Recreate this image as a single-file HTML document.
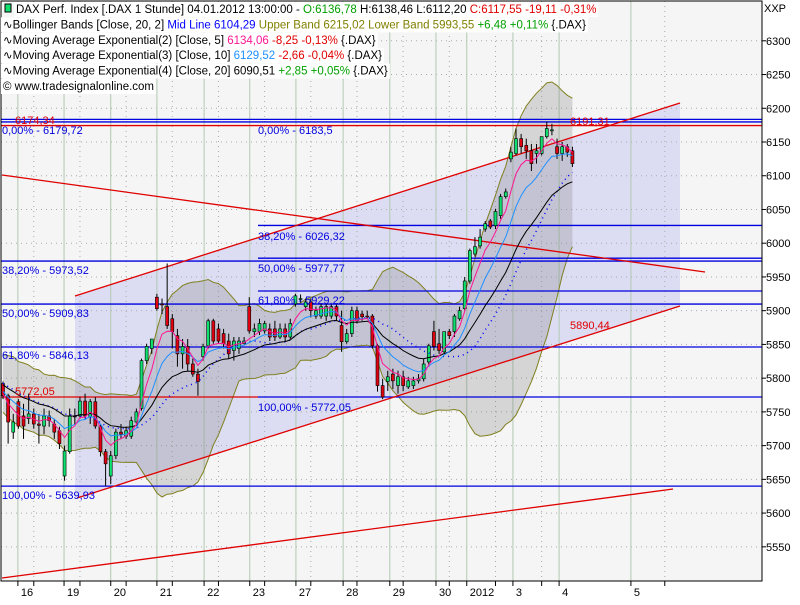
<!DOCTYPE html>
<html><head><meta charset="utf-8"><style>
body{margin:0;background:#fff;width:800px;height:600px;overflow:hidden;font-family:"Liberation Sans",sans-serif}
svg text{font-family:"Liberation Sans",sans-serif}
</style></head><body>
<svg id="chart" width="800" height="600" xmlns="http://www.w3.org/2000/svg"></svg>
<script>
const history=[5830,5820,5840,5810,5800,5815,5790,5805,5780,5770,5795,5785,5760,5775,5790,5780,5765,5785,5775];
const opens=[5792,5774,5720,5765,5744,5740,5747,5732,5729,5744,5732,5722,5655,5691,5744,5744,5766,5743,5765,5729,5691,5655,5685,5720,5714,5714,5735,5755,5826,5844,5920,5910,5906,5888,5863,5836,5847,5821,5806,5832,5848,5885,5873,5866,5855,5841,5844,5851,5906,5869,5869,5870,5873,5873,5861,5873,5861,5910,5918,5906,5913,5892,5892,5892,5892,5906,5878,5854,5866,5900,5895,5892,5892,5848,5789,5795,5806,5789,5802,5787,5789,5796,5799,5824,5869,5851,5839,5869,5869,5888,5903,5944,5984,5996,6021,6033,6026,6041,6069,6125,6133,6155,6145,6137,6133,6133,6158,6167,6143,6133,6143,6137];
const highs=[5795,5777,5747,5769,5762,5777,5755,5747,5755,5752,5740,5728,5700,5755,5755,5772,5777,5769,5772,5732,5695,5692,5725,5732,5728,5743,5755,5829,5851,5858,5925,5918,5970,5895,5873,5858,5858,5829,5814,5851,5888,5888,5881,5873,5866,5861,5861,5861,5920,5881,5888,5885,5881,5885,5881,5881,5888,5925,5924,5918,5918,5906,5910,5910,5910,5909,5900,5873,5906,5906,5900,5900,5895,5851,5799,5811,5814,5811,5811,5802,5802,5806,5829,5851,5885,5873,5869,5873,5895,5906,5950,5992,6009,6021,6033,6036,6051,6073,6081,6143,6170,6162,6155,6147,6147,6158,6180,6177,6155,6150,6147,6143];
const lows=[5769,5703,5710,5725,5710,5732,5725,5703,5717,5728,5710,5695,5648,5688,5732,5740,5740,5732,5725,5684,5640,5643,5680,5710,5710,5710,5732,5752,5821,5836,5900,5895,5873,5844,5817,5814,5811,5802,5774,5826,5844,5851,5851,5844,5829,5826,5836,5850,5866,5861,5864,5866,5855,5855,5858,5855,5858,5906,5912,5900,5890,5888,5888,5885,5888,5885,5839,5851,5861,5881,5885,5888,5844,5780,5769,5781,5784,5777,5781,5784,5784,5792,5795,5817,5841,5836,5836,5858,5861,5885,5900,5940,5980,5992,6017,6021,6021,6036,6066,6120,6130,6133,6125,6107,6118,6130,6155,6160,6125,6122,6128,6113];
const closes=[5774,5735,5735,5729,5729,5747,5732,5730,5744,5737,5720,5703,5692,5744,5743,5766,5744,5765,5729,5691,5673,5685,5720,5717,5722,5737,5750,5826,5847,5858,5903,5909,5878,5869,5836,5847,5821,5806,5795,5847,5885,5855,5855,5851,5836,5855,5855,5855,5870,5873,5881,5881,5861,5861,5873,5861,5881,5922,5918,5913,5900,5900,5906,5906,5906,5892,5854,5866,5900,5885,5891,5891,5848,5789,5772,5802,5796,5802,5789,5796,5796,5799,5821,5848,5847,5841,5869,5863,5892,5900,5944,5989,5995,6009,6029,6024,6047,6069,6076,6135,6155,6143,6137,6118,6137,6158,6170,6168,6133,6143,6135,6118];
const yTicks=[6300,6250,6200,6150,6100,6050,6000,5950,5900,5850,5800,5750,5700,5650,5600,5550];
const dayLabels=["16","19","20","21","22","23","27","28","29","30","2012","3","4","5"];
const dayTickIdx=[2.9,11.9,21,30,39.2,48.1,57.1,66.3,75.4,84.4,90.4,99.4,108.4,122.4];
const midTickIdx=[6,15,24,33,42,51,60,69,78,87,96,105,129];

const NS="http://www.w3.org/2000/svg";
const svg=document.getElementById('chart');
const PL=1,PR=762,PT=1,PB=581;
function y(p){return 40.8+(6300-p)*0.6747;}
function x(i){return 3+i*5.13;}
function mk(tag,attrs,parent){const e=document.createElementNS(NS,tag);for(const k in attrs)e.setAttribute(k,attrs[k]);(parent||svg).appendChild(e);return e;}
function txt(s,xx,yy,fill,anchor,name){const t=mk('text',{x:xx,y:yy,fill:fill,'font-size':11,'text-anchor':anchor||'start'});t.textContent=s;


return t;}

// plot bg
const bg=mk('rect',{x:PL,y:PT,width:PR-PL,height:PB-PT,fill:'#f5f5f5'});



// channel fill
const ch=mk('polygon',{points:'75,296 680,103 680,306 75,498',fill:'#dcdcf2'});



// grid
yTicks.forEach(v=>{const g=mk('line',{x1:PL,x2:PR,y1:y(v),y2:y(v),stroke:'#aaa','stroke-dasharray':'1,4'});

});
dayTickIdx.forEach(i=>{const g=mk('line',{x1:x(i),x2:x(i),y1:PT,y2:PB,stroke:'#b2c8b2'});

});
midTickIdx.forEach(i=>{const g=mk('line',{x1:x(i),x2:x(i),y1:PT,y2:PB,stroke:'#aaa','stroke-dasharray':'1,4'});

});

// indicators
const all=history.concat(closes),H=history.length;
function ema(n){const k=2/(n+1);let e=all[0];const out=[];all.forEach((c,j)=>{e=j?e+k*(c-e):c;out.push(e);});return out.slice(H);}
const mid=[],up=[],lo=[];
for(let j=H;j<all.length;j++){const w=all.slice(Math.max(0,j-19),j+1);const m=w.reduce((a,b)=>a+b,0)/w.length;const sd=Math.sqrt(w.reduce((a,b)=>a+(b-m)*(b-m),0)/w.length);mid.push(m);up.push(m+2*sd);lo.push(m-2*sd);}
function pts(arr){return arr.map((v,i)=>x(i).toFixed(1)+','+y(v).toFixed(1)).join(' ');}
const band=mk('polygon',{points:pts(up)+' '+lo.map((v,i)=>[i,v]).reverse().map(a=>x(a[0]).toFixed(1)+','+y(a[1]).toFixed(1)).join(' '),fill:'rgba(120,120,120,0.25)'});


const ub=mk('polyline',{points:pts(up),fill:'none',stroke:'#808020'});


const lb=mk('polyline',{points:pts(lo),fill:'none',stroke:'#808020'});



// horizontal fib lines
function hl(x1,x2,yy,col,name){const l=mk('line',{x1:x1,x2:x2,y1:yy,y2:yy,stroke:col,'stroke-width':1.3});

}
hl(PL,PR,y(6183.5),'#0000e0','fib-0-line-b');
hl(PL,PR,y(6179.72),'#0000e0','fib-0-line-a');
hl(PL,PR,y(6174.34),'#e00000','red-level-6174');
hl(PL,PR,y(5973.52),'#0000e0','fib-38-line-a');
hl(PL,PR,y(5909.83),'#0000e0','fib-50-line-a');
hl(PL,PR,y(5846.13),'#0000e0','fib-61-line-a');
hl(PL,PR,y(5639.93),'#0000e0','fib-100-line-a');
hl(PL,258,y(5772.05),'#e00000','red-level-5772');
hl(258,PR,y(6026.32),'#0000e0','fib-38-line-b');
hl(258,PR,y(5977.77),'#0000e0','fib-50-line-b');
hl(258,PR,y(5929.22),'#0000e0','fib-61-line-b');
hl(258,PR,y(5772.05),'#0000e0','fib-100-line-b');

// red trend lines
function tl(a,b,c,d,name){const l=mk('line',{x1:a,y1:b,x2:c,y2:d,stroke:'#e00000','stroke-width':1.3});

}
tl(75,296,680,103,'channel-upper-line');
tl(77,498,680,306,'channel-lower-line');
tl(2,578,673,489,'long-support-line');
tl(2,175,705,272,'descending-resistance-line');

// candles
closes.forEach((c,i)=>{const o=opens[i],cx=x(i);
const w=mk('line',{x1:cx,x2:cx,y1:y(highs[i]),y2:y(lows[i]),stroke:'#000'});


const top=y(Math.max(o,c)),h=Math.max(1,Math.abs(y(o)-y(c)));
const b=mk('rect',{x:cx-1.5,y:top,width:3,height:h,fill:c>=o?'#10e070':'#e00010',stroke:'#000','stroke-width':0.6});

});

const mline=mk('polyline',{points:pts(mid),fill:'none',stroke:'#0000ff','stroke-dasharray':'1,4','stroke-width':1.5});


const e20=mk('polyline',{points:pts(ema(20)),fill:'none',stroke:'#000'});


const e10=mk('polyline',{points:pts(ema(10)),fill:'none',stroke:'#1e90ff'});


const e5=mk('polyline',{points:pts(ema(5)),fill:'none',stroke:'#ff1493'});



// fib labels
txt('0,00% - 6179,72',2,134,'#0000e0','start','fib-label');
txt('6174,34',15,124,'#e00000','start','red-level-label');
txt('0,00% - 6183,5',258,134,'#0000e0','start','fib-label');
txt('38,20% - 5973,52',2,274,'#0000e0','start','fib-label');
txt('50,00% - 5909,83',2,317,'#0000e0','start','fib-label');
txt('61,80% - 5846,13',2,359,'#0000e0','start','fib-label');
txt('5772,05',15,395,'#e00000','start','red-level-label');
txt('100,00% - 5639,93',2,499,'#0000e0','start','fib-label');
txt('38,20% - 6026,32',258,240,'#0000e0','start','fib-label');
txt('50,00% - 5977,77',258,272,'#0000e0','start','fib-label');
txt('61,80% - 5929,22',258,304,'#0000e0','start','fib-label');
txt('100,00% - 5772,05',258,411,'#0000e0','start','fib-label');
txt('6191,31',570,125,'#e00000','start','channel-value-label');
txt('5890,44',570,329,'#e00000','start','channel-value-label');

// frame & axes
const fr=mk('rect',{x:PL,y:PT,width:PR-PL,height:PB-PT,fill:'none',stroke:'#000'});


yTicks.forEach(v=>{const t=mk('line',{x1:PR,x2:PR+4,y1:y(v),y2:y(v),stroke:'#000'});


txt(String(v),766,y(v)+4,'#000','start','y-tick-label');});
txt('XXP',764,12,'#000','start','symbol-label');
dayTickIdx.forEach((i,k)=>{const t=mk('line',{x1:x(i),x2:x(i),y1:PB,y2:PB+5,stroke:'#000'});


txt(dayLabels[k],x(i)+3,596,'#000','start','x-tick-label');});
midTickIdx.forEach(i=>{const t=mk('line',{x1:x(i),x2:x(i),y1:PB,y2:PB+5,stroke:'#000'});

});

// header legend
const lines=[
 [['DAX Perf. Index [.DAX  1 Stunde] 04.01.2012 13:00:00 - ','#000'],['O:6136,78','#00a000'],[' H:6138,46 L:6112,20 ','#000'],['C:6117,55 -19,11 -0,31%','#e00000']],
 [['∿Bollinger Bands [Close, 20, 2] ','#000'],['Mid Line 6104,29','#0000ff'],[' Upper Band 6215,02 Lower Band 5993,55','#808000'],[' +6,48 +0,11%','#00a000'],[' {.DAX}','#000']],
 [['∿Moving Average Exponential(2) [Close, 5] ','#000'],['6134,06','#ff1493'],[' -8,25 -0,13%','#e00000'],[' {.DAX}','#000']],
 [['∿Moving Average Exponential(3) [Close, 10] ','#000'],['6129,52','#1e90ff'],[' -2,66 -0,04%','#e00000'],[' {.DAX}','#000']],
 [['∿Moving Average Exponential(4) [Close, 20] 6090,51 ','#000'],['+2,85 +0,05%','#00a000'],[' {.DAX}','#000']],
 [['© www.tradesignalonline.com','#000']]];
lines.forEach((parts,k)=>{const by=13+k*15.4;
const t=mk('text',{x:k==0?16:3,y:by,'font-size':11.5,'xml:space':'preserve'});


parts.forEach(p=>{const s=mk('tspan',{fill:p[1]},t);s.textContent=p[0];});
const bb=t.getBBox();const r=mk('rect',{x:bb.x-2,y:by-11,width:bb.width+4,height:15,fill:'#fff'});svg.insertBefore(r,t);

});
const ic=mk('rect',{x:5,y:4,width:6,height:8,fill:'#10e070',stroke:'#000'});


</script>
</body></html>
